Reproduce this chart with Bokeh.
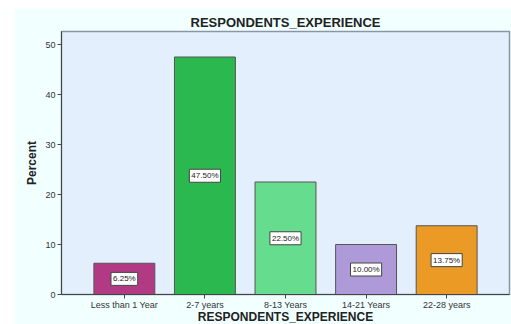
from bokeh.plotting import figure
from bokeh.models import ColumnDataSource, FixedTicker, Range1d, FactorRange
from bokeh.core.properties import value
from bokeh.embed import file_html
from bokeh.resources import INLINE

categories = ["Less than 1 Year", "2-7 years", "8-13 Years", "14-21 Years", "22-28 years"]
percents = [6.25, 47.50, 22.50, 10.00, 13.75]
colors = ["#B23A85", "#2BB84E", "#66DD8E", "#AE99D9", "#EB9A25"]
labels = [f"{v:.2f}%" for v in percents]

src = ColumnDataSource(dict(cat=categories, pct=percents, color=colors,
                            label=labels, mid=[v / 2 for v in percents]))

FONT = "Liberation Sans"
p = figure(x_range=FactorRange(*categories, range_padding=0.28, range_padding_units="absolute"),
           y_range=Range1d(0, 52.6),
           frame_width=448, frame_height=263, output_backend="svg", toolbar_location=None,
           min_border_left=47, min_border_top=23, min_border_right=2, min_border_bottom=30)
p.margin = (8, 0, 0, 14)
p.background_fill_color = "#E3EFFC"
p.border_fill_color = "#F1FFFF"
p.outline_line_color = "#8A96A8"
p.outline_line_width = 1.5
p.grid.visible = False

p.title.text = "RESPONDENTS_EXPERIENCE"
p.title.align = "center"
p.title.text_font = FONT
p.title.text_font_size = "13px"
p.title.text_font_style = "bold"
p.title.text_color = "#222222"
p.title.standoff = 3

p.vbar(x="cat", top="pct", width=0.756, source=src, fill_color="color",
       line_color="#555555", line_width=1)

p.text(x="cat", y="mid", text="label", source=src, text_align="center",
       text_baseline="middle", text_font_size="8px", text_font=value(FONT), text_color="#222222",
       background_fill_color="white", border_line_color="#444444", border_line_width=1,
       padding=2)

p.yaxis.ticker = FixedTicker(ticks=[0, 10, 20, 30, 40, 50])
p.yaxis.axis_label = "Percent"
p.xaxis.axis_label = "RESPONDENTS_EXPERIENCE"
for ax in (p.xaxis[0], p.yaxis[0]):
    ax.axis_label_text_font = FONT
    ax.axis_label_text_font_style = "bold"
    ax.axis_label_text_font_size = "12px"
    ax.axis_label_text_color = "#222222"
    ax.major_label_text_font = FONT
    ax.major_label_text_font_size = "9px"
    ax.major_label_text_color = "#333333"
    ax.axis_line_color = "#444444"
    ax.major_tick_line_color = "#444444"
    ax.major_tick_out = 4
    ax.major_tick_in = 0
    ax.minor_tick_line_color = None
    ax.major_label_standoff = 2
p.xaxis.major_label_standoff = 1
p.xaxis.axis_label_standoff = -3
p.yaxis.axis_label_standoff = 3

open("out.html", "w").write(file_html(p, INLINE))
